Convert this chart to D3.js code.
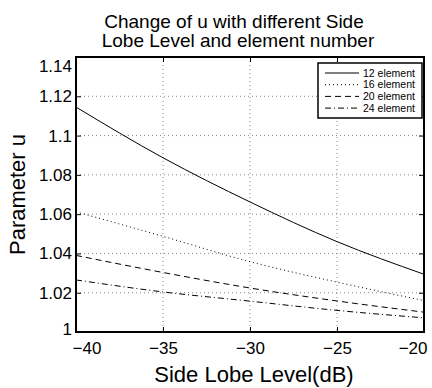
<!DOCTYPE html>
<html>
<head>
<meta charset="utf-8">
<script src="https://cdn.jsdelivr.net/npm/d3@7"></script>
<style>
  body { margin: 0; background: #fff; }
  svg text { font-family: "Liberation Sans", Arial, sans-serif; }
</style>
</head>
<body>
<div id="chart"></div>
<script>
// side lobe level (dB)
const sll = [-40, -35, -30, -25, -20];
const u12 = [1.1145, 1.0887, 1.0662, 1.0460, 1.0294];
const u16 = [1.0612, 1.0487, 1.0358, 1.0254, 1.0160];
const u20 = [1.0390, 1.0303, 1.0224, 1.0158, 1.0101];
const u24 = [1.0265, 1.0204, 1.0157, 1.0110, 1.0072];
const seriesNames = ["12 element", "16 element", "20 element", "24 element"];
const xTicks = [-40, -35, -30, -25, -20];
const yTicks = [1, 1.02, 1.04, 1.06, 1.08, 1.1, 1.12, 1.14];

const W = 432, H = 388;
const margin = {top: 57, right: 8, bottom: 56, left: 76};
const w = W - margin.left - margin.right;
const h = H - margin.top - margin.bottom;

const svg = d3.select("#chart").append("svg")
  .attr("width", W).attr("height", H);
const g = svg.append("g")
  .attr("transform", "translate(" + margin.left + "," + margin.top + ")");

const x = d3.scaleLinear().domain([-40, -20]).range([0, w]);
const y = d3.scaleLinear().domain([1, 1.14]).range([h, 0]);

// grid
g.append("g").selectAll("line").data(xTicks.slice(1, -1)).join("line")
  .attr("x1", d => x(d)).attr("x2", d => x(d))
  .attr("y1", 0).attr("y2", h)
  .attr("stroke", "#888").attr("stroke-width", 1).attr("stroke-dasharray", "1,3");
g.append("g").selectAll("line").data(yTicks.slice(1, -1)).join("line")
  .attr("y1", d => y(d)).attr("y2", d => y(d))
  .attr("x1", 0).attr("x2", w)
  .attr("stroke", "#888").attr("stroke-width", 1).attr("stroke-dasharray", "1,3");

// series
const styles = [null, "1,3", "6,4", "6,3,1,3"];
const allSeries = [u12, u16, u20, u24];
const line = d3.line()
  .x((d, i) => x(sll[i]))
  .y(d => y(d))
  .curve(d3.curveMonotoneX);
allSeries.forEach((s, k) => {
  g.append("path")
    .datum(s)
    .attr("fill", "none")
    .attr("stroke", "#000")
    .attr("stroke-width", 1)
    .attr("stroke-dasharray", styles[k])
    .attr("d", line);
});

// axes (ticks inside, like matlab)
const xaxis = d3.axisBottom(x).tickValues(xTicks).tickSizeInner(-5).tickSizeOuter(0).tickPadding(10);
const yaxis = d3.axisLeft(y).tickValues(yTicks).tickSizeInner(-5).tickSizeOuter(0).tickPadding(4)
  .tickFormat(d3.format("~g"));

const gx = g.append("g").attr("transform", "translate(0," + h + ")").call(xaxis);
const gy = g.append("g").call(yaxis);
g.append("g").call(d3.axisTop(x).tickValues(xTicks).tickSizeInner(-5).tickSizeOuter(0).tickFormat(""));
g.append("g").attr("transform", "translate(" + w + ",0)")
  .call(d3.axisRight(y).tickValues(yTicks).tickSizeInner(-5).tickSizeOuter(0).tickFormat(""));

g.selectAll(".domain").remove();
g.selectAll(".tick line").attr("stroke", "#000");
gx.selectAll("text").attr("font-size", 17).attr("fill", "#000").attr("font-family", "Liberation Sans, Arial, sans-serif");
gy.selectAll("text").attr("font-size", 17).attr("fill", "#000").attr("font-family", "Liberation Sans, Arial, sans-serif");
// edge labels kept inside like the original
gx.selectAll("text").filter(d => d === -40).attr("text-anchor", "start").attr("dx", -4);
gx.selectAll("text").filter(d => d === -20).attr("text-anchor", "end").attr("dx", 3);
gy.selectAll("text").filter(d => d === 1.14).attr("y", 9);
gy.selectAll("text").filter(d => d === 1).attr("y", -3);

// box
g.append("rect").attr("width", w).attr("height", h)
  .attr("fill", "none").attr("stroke", "#000").attr("stroke-width", 2);

// legend
const lg = g.append("g").attr("transform", "translate(" + (w - 106) + ",6)");
lg.append("rect").attr("width", 104).attr("height", 55)
  .attr("fill", "#fff").attr("stroke", "#000").attr("stroke-width", 1.5);
seriesNames.forEach((name, k) => {
  const yy = 10 + k * 11.7;
  lg.append("line").attr("x1", 7).attr("x2", 41).attr("y1", yy).attr("y2", yy)
    .attr("stroke", "#000").attr("stroke-width", 1).attr("stroke-dasharray", styles[k]);
  lg.append("text").attr("x", 45).attr("y", yy).attr("dy", "0.35em")
    .attr("font-size", 10.5).text(name);
});

// titles
svg.append("text").attr("x", 234).attr("y", 28)
  .attr("text-anchor", "middle").attr("font-size", 19).text("Change of u with different Side");
svg.append("text").attr("x", 238).attr("y", 47)
  .attr("text-anchor", "middle").attr("font-size", 19).text("Lobe Level and element number");
svg.append("text").attr("x", 254).attr("y", 382)
  .attr("text-anchor", "middle").attr("font-size", 22).text("Side Lobe Level(dB)");
svg.append("text").attr("transform", "translate(25," + (margin.top + h / 2) + ") rotate(-90)")
  .attr("text-anchor", "middle").attr("font-size", 22).text("Parameter u");
</script>
</body>
</html>
